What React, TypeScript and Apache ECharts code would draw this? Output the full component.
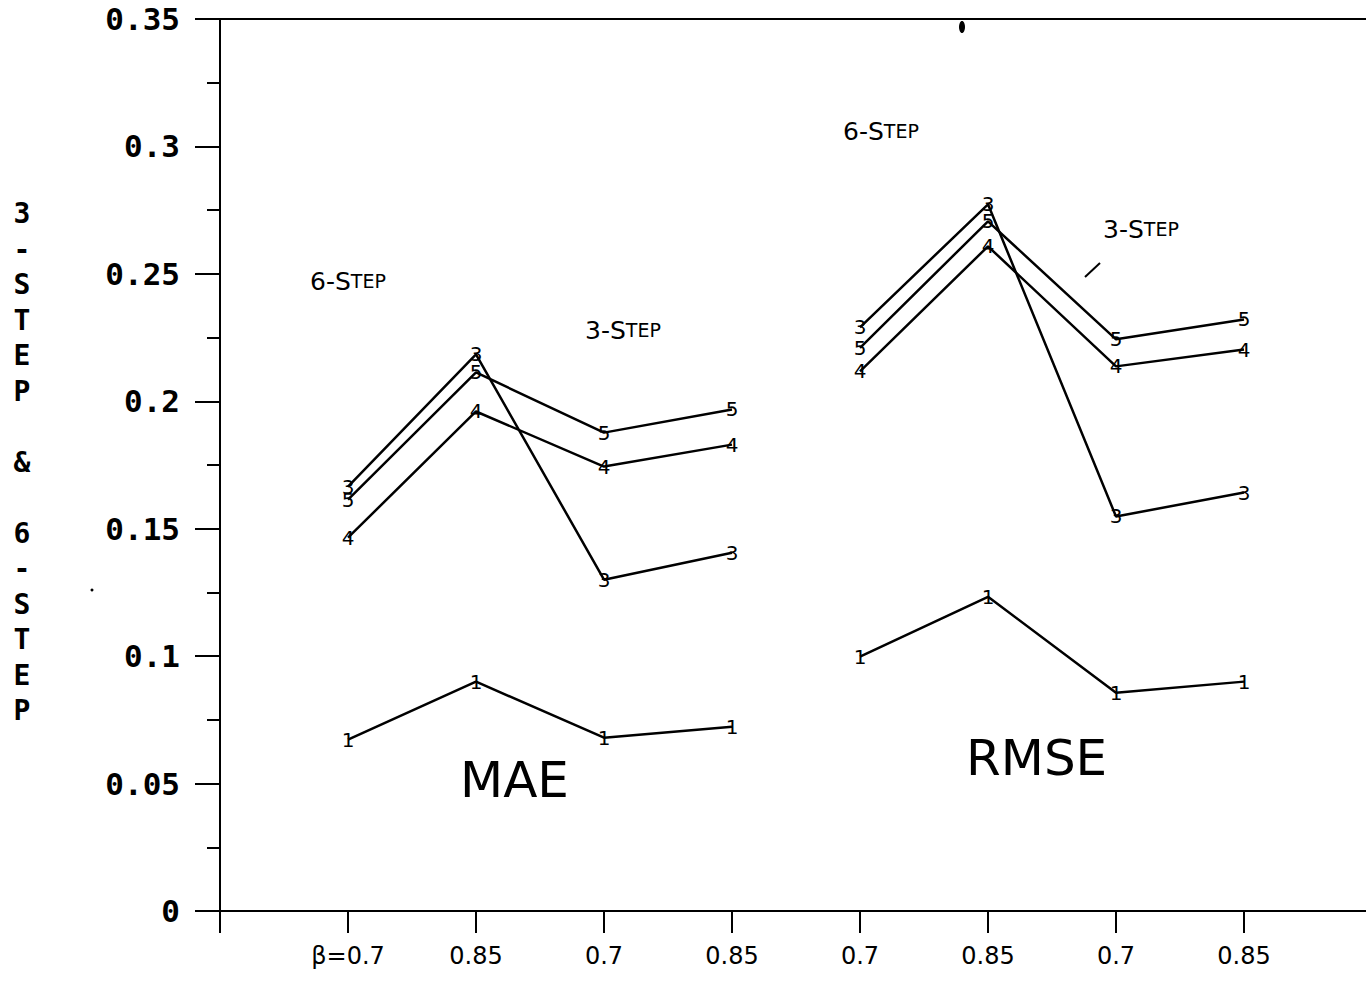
import React, { useEffect, useRef } from "react";
import * as echarts from "echarts";

// x positions: 0 is the y-axis, 1..4 = MAE group, 5..8 = RMSE group
const xTickLabels = ["", "β=0.7", "0.85", "0.7", "0.85", "0.7", "0.85", "0.7", "0.85", ""];
const maeX = [1, 2, 3, 4];
const rmseX = [5, 6, 7, 8];

// series markers (plotted as the digit at each point)
const markers = ["3", "5", "4", "1"];

// MAE values per series
const mae3 = [0.1665, 0.2184, 0.130, 0.1406];
const mae5 = [0.1614, 0.2113, 0.1877, 0.1968];
const mae4 = [0.1465, 0.196, 0.1744, 0.183];
const mae1 = [0.0672, 0.090, 0.068, 0.0723];

// RMSE values per series
const rmse3 = [0.229, 0.2773, 0.1548, 0.1642];
const rmse5 = [0.221, 0.2706, 0.2243, 0.2321];
const rmse4 = [0.2117, 0.2608, 0.2137, 0.2203];
const rmse1 = [0.0998, 0.1233, 0.0856, 0.090];

const maeSeries = [mae3, mae5, mae4, mae1];
const rmseSeries = [rmse3, rmse5, rmse4, rmse1];

const yTickLabels = ["0", "0.05", "0.1", "0.15", "0.2", "0.25", "0.3", "0.35"];

const hand = "DejaVu Sans";

function stepLabel(num: string, x: number, y: number) {
  return {
    type: "text",
    x,
    y,
    style: {
      text: `{a|${num}-S}{b|TEP}`,
      verticalAlign: "middle",
      rich: {
        a: { fontFamily: hand, fontSize: 25, fill: "#000" },
        b: { fontFamily: hand, fontSize: 19, fill: "#000" },
      },
    },
  };
}

export default function App() {
  const ref = useRef<HTMLDivElement>(null);

  useEffect(() => {
    if (!ref.current) return;
    const chart = echarts.init(ref.current, null, { renderer: "svg" });

    const lineSeries: any[] = [];
    const addGroup = (xs: number[], groups: number[][], tag: string) => {
      groups.forEach((vals, i) => {
        lineSeries.push({
          name: `${tag}-${markers[i]}`,
          type: "line",
          data: vals.map((v, j) => [xs[j], v]),
          symbol: "circle",
          symbolSize: 1,
          itemStyle: { color: "rgba(0,0,0,0)" },
          lineStyle: { color: "#000", width: 2.5 },
          labelLayout: { hideOverlap: false },
          label: {
            show: true,
            position: "inside",
            formatter: () => markers[i],
            fontFamily: hand,
            fontSize: 20,
            color: "#000",
          },
          silent: true,
        });
      });
    };
    addGroup(maeX, maeSeries, "MAE");
    addGroup(rmseX, rmseSeries, "RMSE");

    chart.setOption({
      animation: false,
      backgroundColor: "#fff",
      grid: {
        left: 220,
        top: 19,
        right: -6,
        bottom: 75,
        containLabel: false,
        outerBoundsMode: "none",
      },
      xAxis: [
        {
          type: "value",
          min: 0,
          max: 9,
          interval: 1,
          axisLine: { show: true, lineStyle: { color: "#000", width: 2 } },
          axisTick: { show: true, length: 22, lineStyle: { color: "#000", width: 2 } },
          splitLine: { show: false },
          axisLabel: {
            margin: 33,
            fontFamily: hand,
            fontSize: 24,
            color: "#000",
            formatter: (v: number) => xTickLabels[Math.round(v)] ?? "",
          },
        },
        {
          type: "value",
          position: "top",
          min: 0,
          max: 9,
          axisLine: { show: true, lineStyle: { color: "#000", width: 2 } },
          axisTick: { show: false },
          axisLabel: { show: false },
          splitLine: { show: false },
        },
      ],
      yAxis: {
        type: "value",
        min: 0,
        max: 0.35,
        interval: 0.05,
        axisLine: { show: true, lineStyle: { color: "#000", width: 2 } },
        axisTick: { show: true, length: 25, lineStyle: { color: "#000", width: 2 } },
        minorTick: { show: true, splitNumber: 2, length: 13, lineStyle: { color: "#000", width: 2 } },
        splitLine: { show: false },
        axisLabel: {
          margin: 40,
          fontFamily: "DejaVu Sans Mono",
          fontWeight: "bold",
          fontSize: 31,
          color: "#000",
          formatter: (v: number) => yTickLabels[Math.round(v / 0.05)] ?? "",
        },
      },
      series: lineSeries,
      graphic: [
        {
          type: "text",
          x: 22,
          y: 196,
          style: {
            text: "3\n-\nS\nT\nE\nP\n \n&\n \n6\n-\nS\nT\nE\nP",
            fontFamily: "DejaVu Sans Mono",
            fontWeight: "bold",
            fontSize: 28,
            lineHeight: 35.5,
            align: "center",
            fill: "#000",
          },
        },
        stepLabel("6", 310, 281),
        stepLabel("3", 585, 330),
        stepLabel("6", 843, 131),
        stepLabel("3", 1103, 229),
        {
          type: "text",
          x: 460,
          y: 780,
          style: { text: "MAE", fontFamily: hand, fontSize: 50, verticalAlign: "middle", fill: "#000" },
        },
        {
          type: "text",
          x: 966,
          y: 758,
          style: { text: "RMSE", fontFamily: hand, fontSize: 50, verticalAlign: "middle", fill: "#000" },
        },
        {
          type: "line",
          shape: { x1: 1085, y1: 277, x2: 1100, y2: 263 },
          style: { stroke: "#000", lineWidth: 2 },
        },
        {
          type: "ellipse",
          shape: { cx: 962, cy: 27, rx: 3, ry: 6 },
          style: { fill: "#000" },
        },
        {
          type: "circle",
          shape: { cx: 92, cy: 590, r: 1.5 },
          style: { fill: "#000" },
        },
      ],
    });

    return () => chart.dispose();
  }, []);

  return (
    <div
      ref={ref}
      style={{ position: "absolute", left: 0, top: 0, width: 1366, height: 986 }}
    />
  );
}
